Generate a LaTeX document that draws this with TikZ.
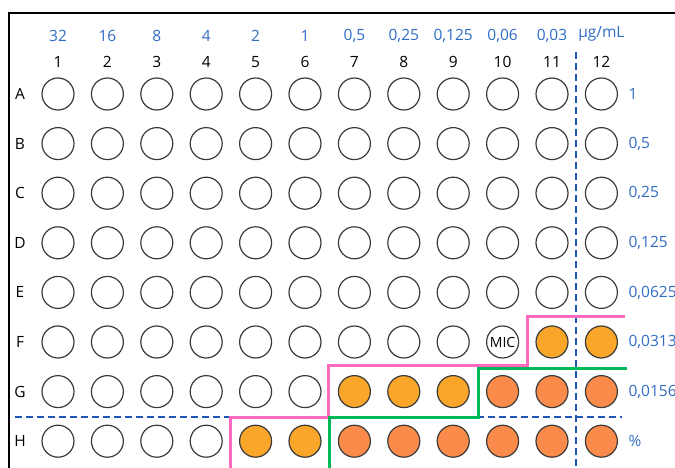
\documentclass[tikz,border=0pt]{standalone}
\usepackage{fontspec}
\setmainfont{Open Sans}
\usepackage{tikz}
\usetikzlibrary{positioning}
\definecolor{conc}{HTML}{2F6CC4}
\definecolor{split}{HTML}{1F55B3}
\definecolor{rim}{HTML}{3A3A3A}
\definecolor{amber}{HTML}{F9A62A}
\definecolor{salmon}{HTML}{FB8B4B}
\definecolor{pinkline}{HTML}{FF69C0}
\definecolor{greenline}{HTML}{00B857}

\begin{document}
\begin{tikzpicture}[x=1pt,y=-1pt,
  every node/.style={font=\fontsize{15.5}{15.5}\selectfont},
  well/.style={circle,draw=rim,line width=1.2pt,minimum size=32pt,inner sep=0pt},
  well/F11/.style={fill=amber}, well/F12/.style={fill=amber},
  well/G7/.style={fill=amber}, well/G8/.style={fill=amber}, well/G9/.style={fill=amber},
  well/H5/.style={fill=amber}, well/H6/.style={fill=amber},
  well/G10/.style={fill=salmon}, well/G11/.style={fill=salmon}, well/G12/.style={fill=salmon},
  well/H7/.style={fill=salmon}, well/H8/.style={fill=salmon}, well/H9/.style={fill=salmon},
  well/H10/.style={fill=salmon}, well/H11/.style={fill=salmon}, well/H12/.style={fill=salmon},
  dose/.style={text=conc},
  border/.style={line width=3pt}]
 \useasboundingbox (0,0) rectangle (675,468);
 \clip (0,0) rectangle (675,468);
 \draw[line width=1.5pt] (9,490) -- (9,13) -- (700,13);
 % plate: rows and columns
 \foreach \r [count=\i] in {A,B,C,D,E,F,G,H} {
  \node (row\r) at (20,{94+(\i-1)*49.6}) {\r};
  \foreach \c in {1,...,12}
   \node[well,well/\r\c/.try] (w\r\c) at ({58+(\c-1)*49.4},{94+(\i-1)*49.6}) {};
 }
 \foreach \c in {1,...,12}
  \node (col\c) at ([yshift=32pt]wA\c.center) {\c};
 \foreach \v [count=\c] in {32,16,8,4,2,1,{0,5},{0,25},{0,125},{0,06},{0,03}}
  \node[dose] (dose\c) at ([yshift=58pt]wA\c.center) {\v};
 \node[dose] (unit) at ([yshift=60pt]wA12.center) {µg/mL};
 \node[font=\fontsize{14}{14}\selectfont,inner sep=0pt] (mic) at (wF10) {MIC};
 % right side concentrations
 \foreach \v [count=\i] in {1,{0,5},{0,25},{0,125},{0,0625},{0,0313},{0,0156},\%} {
  \pgfmathsetmacro\rl{{"A","B","C","D","E","F","G","H"}[\i-1]}
  \node[dose,right=7pt of w\rl12] (side\i) {\v};
 }
 % separators
 \draw[split,line width=2pt,dash pattern=on 7pt off 4pt] (576,52) -- (576,470);
 \draw[split,line width=2pt,dash pattern=on 7pt off 4pt] (15,417) -- (622,417);
 % zones
 \draw[border,pinkline] (230,475) -- (230,417) -- (328,417) -- (328,365.5) -- (527,365.5) -- (527,316) -- (625,316);
 \draw[border,greenline] (329.5,475) -- (329.5,417) -- (478,417) -- (478,368.5) -- (627,368.5);
\end{tikzpicture}
\end{document}
